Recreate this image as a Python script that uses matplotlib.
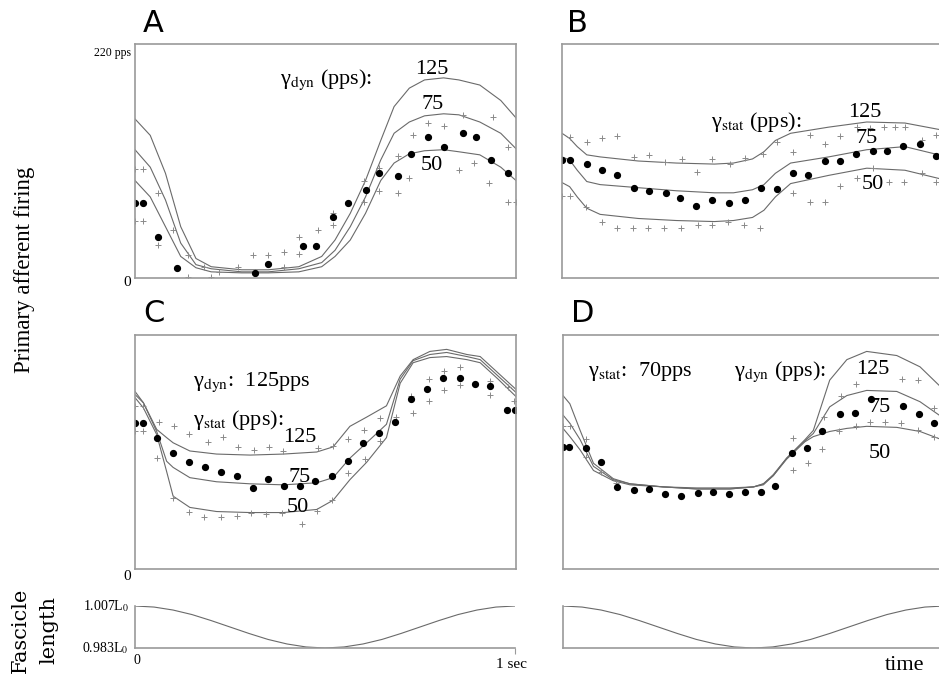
import matplotlib
matplotlib.use("Agg")
import matplotlib.pyplot as plt
import numpy as np

plt.rcParams['font.family'] = ['Liberation Serif', 'DejaVu Serif']
plt.rcParams['mathtext.fontset'] = 'stix'

# ---------------- Panel A (gamma_dyn varied) ----------------
tA = [0, 0.04, 0.08, 0.12, 0.16, 0.2, 0.28, 0.35, 0.43, 0.49, 0.525, 0.565, 0.605,
      0.645, 0.68, 0.72, 0.76, 0.81, 0.85, 0.905, 0.96, 1.0]
A125 = [155, 139, 102, 50, 19, 11, 8, 8, 11, 21, 37, 63, 95, 134, 167, 185, 193, 195, 193, 188, 173, 156]
A75 = [125, 108, 76, 34, 13, 9, 6, 6, 9, 15, 27, 50, 79, 115, 141, 152, 158, 160, 159, 152, 141, 126]
A50 = [95, 79, 50, 21, 10, 6, 5, 5, 6, 11, 21, 37, 63, 95, 112, 121, 124, 125, 123, 120, 108, 95]
A_dot_t = [0, 0.02, 0.06, 0.11, 0.315, 0.35, 0.44, 0.475, 0.52, 0.56, 0.605, 0.64, 0.69,
           0.725, 0.77, 0.81, 0.86, 0.895, 0.935, 0.98]
A_dot_v = [73, 73, 40, 10, 5, 14, 31, 31, 59, 73, 86, 102, 99, 121, 137, 128, 141, 137, 115, 102]
A_plus_t = [0, 0.02, 0, 0.02, 0.06, 0.06, 0.10, 0.14, 0.14, 0.20, 0.18, 0.22, 0.27, 0.31, 0.35,
            0.39, 0.39, 0.43, 0.43, 0.48, 0.52, 0.52, 0.60, 0.60, 0.64, 0.64, 0.69, 0.69, 0.72,
            0.73, 0.77, 0.81, 0.85, 0.86, 0.89, 0.94, 0.98, 0.93, 0.98, 1.0]
A_plus_v = [106, 106, 56, 56, 83, 32, 47, 22, 1, 1, 11, 6, 11, 22, 22, 25, 11, 40, 23, 47, 63,
            52, 95, 74, 107, 85, 83, 119, 97, 139, 151, 148, 105, 159, 112, 157, 128, 93, 74, 74]

# ---------------- Panel B (gamma_stat varied) ----------------
tB = [0, 0.02, 0.04, 0.065, 0.1, 0.2, 0.3, 0.4, 0.45, 0.5, 0.53, 0.56, 0.6, 0.7, 0.8, 0.9, 1.0]
B125 = [141, 136, 128, 120, 118, 114, 112, 111, 112, 116, 123, 134, 141, 147, 152, 151, 144]
B75 = [118, 115, 105, 94, 91, 88, 85, 83, 83, 86, 91, 102, 112, 118, 125, 128, 119]
B50 = [93, 89, 79, 68, 62, 58, 56, 55, 56, 59, 66, 79, 92, 100, 107, 105, 96]
B_dot_t = [0, 0.02, 0.065, 0.104, 0.145, 0.189, 0.228, 0.273, 0.311, 0.353, 0.395, 0.439,
           0.48, 0.522, 0.565, 0.607, 0.646, 0.69, 0.73, 0.772, 0.815, 0.854, 0.896, 0.94, 0.982]
B_dot_v = [115, 115, 111, 105, 100, 88, 85, 83, 78, 70, 76, 73, 76, 88, 87, 102, 100, 114,
           114, 121, 124, 124, 129, 131, 119]
B_plus_t = [0.02, 0.065, 0.104, 0.145, 0.189, 0.228, 0.27, 0.314, 0.355, 0.395, 0.44, 0.48,
            0.527, 0.563, 0.607, 0.651, 0.69, 0.73, 0.773, 0.808, 0.846, 0.874, 0.9, 0.944, 0.982,
            0.0, 0.02, 0.063, 0.104, 0.145, 0.187, 0.225, 0.268, 0.312, 0.358, 0.393, 0.437,
            0.478, 0.52, 0.607, 0.651, 0.69, 0.73, 0.773, 0.817, 0.857, 0.898, 0.944, 0.982]
B_plus_v = [137, 133, 136, 138, 118, 120, 113, 116, 103, 116, 111, 117, 121, 133, 123, 139,
            131, 138, 147, 146, 147, 147, 147, 134, 139,
            80, 80, 69, 55, 49, 49, 49, 49, 49, 52, 52, 55, 52, 49, 83, 74, 74, 90, 97, 107,
            94, 94, 102, 94]

# ---------------- Panel C (gamma_dyn 125, gamma_stat varied) ----------------
tC = [0, 0.022, 0.057, 0.083, 0.1, 0.144, 0.214, 0.302, 0.39, 0.477, 0.52, 0.564, 0.608,
      0.66, 0.696, 0.73, 0.774, 0.818, 0.871, 0.906, 0.953, 1.0]
C125 = [173, 162, 136, 128, 123, 115, 112, 111, 112, 114, 119, 139, 148, 159, 188, 204, 212,
        214, 209, 207, 191, 175]
C75 = [170, 162, 134, 105, 99, 89, 85, 83, 82, 84, 89, 108, 123, 141, 185, 203, 209, 211,
       207, 204, 188, 172]
C50 = [167, 157, 131, 95, 71, 60, 56, 55, 55, 58, 67, 87, 104, 128, 181, 201, 206, 207, 204,
       201, 185, 168]
C_dot_t = [0, 0.02, 0.059, 0.101, 0.143, 0.184, 0.225, 0.269, 0.309, 0.35, 0.391, 0.433,
           0.472, 0.516, 0.558, 0.599, 0.641, 0.682, 0.724, 0.766, 0.808, 0.853, 0.892, 0.932,
           0.976, 0.997]
C_dot_v = [142, 142, 128, 113, 104, 99, 95, 91, 79, 88, 81, 81, 86, 91, 105, 123, 133, 143,
           166, 175, 186, 186, 180, 178, 155, 155]
C_plus_t = [0, 0.022, 0.064, 0.102, 0.143, 0.192, 0.23, 0.27, 0.312, 0.353, 0.389, 0.481,
            0.52, 0.56, 0.601, 0.643, 0.685, 0.724, 0.772, 0.811, 0.853, 0.932, 0.979,
            0, 0.02, 0.059, 0.101, 0.143, 0.182, 0.225, 0.269, 0.304, 0.344, 0.386, 0.439,
            0.477, 0.518, 0.56, 0.604, 0.643, 0.729, 0.772, 0.811, 0.853, 0.932, 0.995]
C_plus_v = [159, 159, 143, 139, 132, 124, 129, 119, 116, 119, 115, 118, 120, 127, 135, 147,
            148, 169, 185, 193, 197, 183, 177,
            134, 134, 108, 69, 56, 51, 51, 52, 55, 54, 55, 44, 57, 67, 94, 107, 125, 152, 164,
            174, 179, 170, 164]

# ---------------- Panel D (gamma_stat 70, gamma_dyn varied) ----------------
tD = [0, 0.018, 0.045, 0.08, 0.132, 0.176, 0.263, 0.351, 0.438, 0.5, 0.526, 0.552, 0.587,
      0.635, 0.657, 0.7, 0.745, 0.797, 0.876, 0.937, 0.987, 1.0]
D125 = [169, 161, 135, 103, 88, 83, 80, 79, 79, 80, 83, 92, 108, 126, 135, 184, 204, 212, 208,
        197, 179, 176]
D75 = [150, 142, 126, 100, 87, 83, 80, 78, 78, 80, 83, 91, 108, 125, 132, 158, 169, 174, 173,
       163, 150, 147]
D50 = [137, 129, 116, 96, 86, 82, 80, 78, 78, 80, 82, 91, 107, 124, 129, 134, 137, 139, 138,
       134, 127, 126]
D_dot_t = [0, 0.017, 0.061, 0.101, 0.142, 0.186, 0.225, 0.267, 0.31, 0.355, 0.394, 0.435,
           0.477, 0.519, 0.557, 0.601, 0.641, 0.681, 0.728, 0.767, 0.809, 0.892, 0.934, 0.975]
D_dot_v = [119, 119, 118, 104, 80, 77, 78, 73, 71, 74, 75, 73, 75, 75, 81, 113, 118, 134, 151,
           152, 166, 159, 151, 142]
D_plus_t = [0, 0.019, 0.061, 0.603, 0.686, 0.73, 0.768, 0.889, 0.932, 0.973,
            0.061, 0.101, 0.14, 0.603, 0.642, 0.681, 0.725, 0.768, 0.807, 0.846, 0.888, 0.932,
            0.973]
D_plus_v = [139, 139, 127, 128, 148, 169, 180, 185, 184, 157,
            109, 95, 84, 96, 103, 117, 134, 139, 143, 143, 142, 135, 129]

# ---------------- Fascicle length ----------------
t_len = [0, 0.05, 0.1, 0.15, 0.2, 0.25, 0.3, 0.35, 0.4, 0.45, 0.5, 0.55, 0.6, 0.65, 0.7,
         0.75, 0.8, 0.85, 0.9, 0.95, 1.0]
len_L0 = [1.007, 1.0064, 1.0047, 1.0021, 0.9987, 0.995, 0.9913, 0.9879, 0.9853, 0.9836, 0.983,
          0.9836, 0.9853, 0.9879, 0.9913, 0.995, 0.9987, 1.0021, 1.0047, 1.0064, 1.007]

W, H = 939, 681
fig = plt.figure(figsize=(W / 100, H / 100), dpi=100)


def rect(x0, y0, x1, y1):
    return [x0 / W, 1 - y1 / H, (x1 - x0) / W, (y1 - y0) / H]


SPINE = '#9a9a9a'
LINE = '#6a6a6a'
PLUS = '#8a8a8a'


def top_panel(r, curves, dt, dv, pt, pv):
    ax = fig.add_axes(r)
    for t, v in curves:
        ax.plot(t, v, color=LINE, lw=0.8)
    ax.plot(pt, pv, ls='none', marker='+', ms=4.5, mew=0.7, color=PLUS)
    ax.plot(dt, dv, ls='none', marker='o', ms=4.2, color='black')
    ax.set_xlim(0, 1)
    ax.set_ylim(0, 228)
    ax.set_xticks([])
    ax.set_yticks([])
    for s in ax.spines.values():
        s.set_color(SPINE)
        s.set_linewidth(1.2)
    ax.patch.set_alpha(0)
    return ax


axA = top_panel(rect(135, 44, 516, 278), [(tA, A125), (tA, A75), (tA, A50)],
                A_dot_t, A_dot_v, A_plus_t, A_plus_v)
axB = top_panel(rect(562, 44, 943, 278), [(tB, B125), (tB, B75), (tB, B50)],
                B_dot_t, B_dot_v, B_plus_t, B_plus_v)
axC = top_panel(rect(135, 335, 516, 569), [(tC, C125), (tC, C75), (tC, C50)],
                C_dot_t, C_dot_v, C_plus_t, C_plus_v)
axD = top_panel(rect(563, 335, 944, 569), [(tD, D125), (tD, D75), (tD, D50)],
                D_dot_t, D_dot_v, D_plus_t, D_plus_v)

fs = 16
# A annotations
axA.text(0.38, 193, r'γ$_{\rm dyn}$ (pps):', fontsize=fs, ha='left', va='center')
axA.text(0.78, 203, '125', fontsize=fs, ha='center', va='center')
axA.text(0.78, 169, '75', fontsize=fs, ha='center', va='center')
axA.text(0.78, 110, '50', fontsize=fs, ha='center', va='center')
# B annotations
axB.text(0.39, 152, r'γ$_{\rm stat}$ (pps):', fontsize=fs, ha='left', va='center')
axB.text(0.795, 161, '125', fontsize=fs, ha='center', va='center')
axB.text(0.80, 136, '75', fontsize=fs, ha='center', va='center')
axB.text(0.815, 91, '50', fontsize=fs, ha='center', va='center')
# C annotations
axC.text(0.152, 182, r'γ$_{\rm dyn}$:  125pps', fontsize=fs, ha='left', va='center')
axC.text(0.152, 145, r'γ$_{\rm stat}$ (pps):', fontsize=fs, ha='left', va='center')
axC.text(0.433, 128, '125', fontsize=fs, ha='center', va='center')
axC.text(0.433, 89, '75', fontsize=fs, ha='center', va='center')
axC.text(0.428, 60, '50', fontsize=fs, ha='center', va='center')
# D annotations
axD.text(0.066, 192, r'γ$_{\rm stat}$:  70pps', fontsize=fs, ha='left', va='center')
axD.text(0.45, 192, r'γ$_{\rm dyn}$ (pps):', fontsize=fs, ha='left', va='center')
axD.text(0.814, 194, '125', fontsize=fs, ha='center', va='center')
axD.text(0.832, 157, '75', fontsize=fs, ha='center', va='center')
axD.text(0.832, 113, '50', fontsize=fs, ha='center', va='center')

# panel letters
for lab, x, y in [('A', 143, 24), ('B', 567, 24), ('C', 143, 314), ('D', 571, 314)]:
    fig.text(x / W, 1 - y / H, lab, fontsize=22, family='DejaVu Sans', ha='left', va='center')

# y labels for top panels
fig.text(131 / W, 1 - 53 / H, '220 pps', fontsize=8.5, ha='right', va='center')
fig.text(127 / W, 1 - 283 / H, '0', fontsize=11, ha='center', va='center')
fig.text(127 / W, 1 - 577 / H, '0', fontsize=11, ha='center', va='center')
fig.text(25 / W, 1 - 270 / H, 'Primary afferent firing', fontsize=16.5, rotation=90,
         ha='center', va='center')


# fascicle length panels
def len_panel(r, with_tick):
    ax = fig.add_axes(r)
    ax.plot(t_len, len_L0, color=LINE, lw=0.8)
    ax.set_xlim(0, 1)
    ax.set_ylim(0.983, 1.007)
    ax.spines['top'].set_visible(False)
    ax.spines['right'].set_visible(False)
    for s in ('left', 'bottom'):
        ax.spines[s].set_color(SPINE)
        ax.spines[s].set_linewidth(1.2)
    ax.set_yticks([])
    if with_tick:
        ax.set_xticks([1.0])
        ax.tick_params(axis='x', length=4, color=SPINE, labelbottom=False)
    else:
        ax.set_xticks([])
    ax.patch.set_alpha(0)
    return ax


len_panel(rect(135, 606, 515, 648), True)
len_panel(rect(563, 606, 944, 648), False)

fig.text(129 / W, 1 - 606 / H, r'1.007L$_0$', fontsize=10, ha='right', va='center')
fig.text(129 / W, 1 - 648 / H, r'0.983L$_0$', fontsize=10, ha='right', va='center')
fig.text(137 / W, 1 - 661 / H, '0', fontsize=10, ha='center', va='center')
fig.text(511 / W, 1 - 664 / H, '1 sec', fontsize=11, ha='center', va='center')
fig.text(905 / W, 1 - 666 / H, 'time', fontsize=16, ha='center', va='center')
fig.text(20 / W, 1 - 630 / H, 'Fascicle', fontsize=15, family='DejaVu Serif',
         rotation=90, ha='center', va='center')
fig.text(49 / W, 1 - 630 / H, 'length', fontsize=15, family='DejaVu Serif',
         rotation=90, ha='center', va='center')

fig.savefig('out.png', dpi=100)
